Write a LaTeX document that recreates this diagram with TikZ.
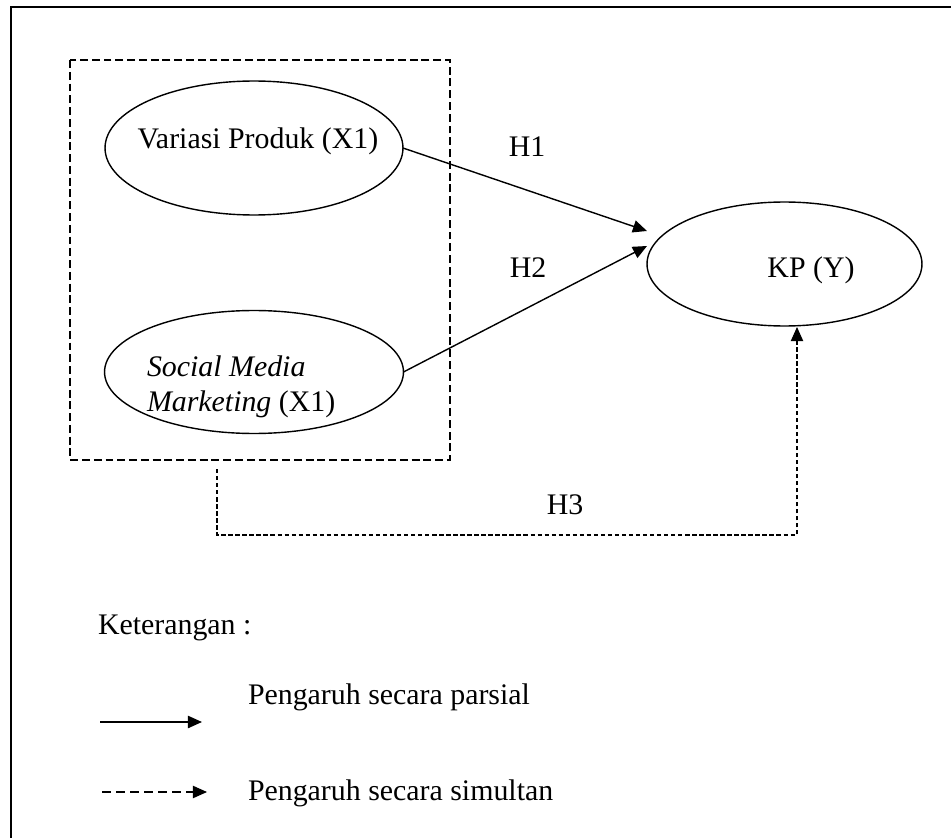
\documentclass[tikz,border=0pt]{standalone}
\usepackage{fontspec}
\setmainfont{Liberation Serif}
\usetikzlibrary{shapes.geometric,arrows.meta}

\begin{document}
\begin{tikzpicture}[x=0.02cm, y=-0.02cm,
  every node/.style={font=\fontsize{17}{20}\selectfont, inner sep=0pt, outer sep=0pt},
  oval/.style={ellipse, draw, line width=0.8pt},
  tip/.style={-{Triangle[length=8pt,width=7pt]}},
  partial/.style={tip, line width=0.8pt},
  simul/.style={tip, line width=0.6pt, dash pattern=on 2.5pt off 1.5pt}]
\useasboundingbox (0,0) rectangle (951,838);
\draw[line width=1.7pt] (11,838) -- (11,7) -- (951,7);

\draw[line width=1.6pt, dash pattern=on 4.5pt off 2.2pt] (70,60) rectangle (450,460);

\node[oval, minimum width=5.96cm, minimum height=2.68cm] (vp) at (254,148) {};
\node (vptext) at (258,141) {Variasi Produk (X1)};
\node[oval, minimum width=5.98cm, minimum height=2.46cm] (smm) at (254,372) {};
\node[anchor=west, align=left] (smmtext) at (147,387) {\textit{Social Media}\\\textit{Marketing} (X1)};
\node[oval, minimum width=5.5cm, minimum height=2.48cm] (kp) at (784.5,264) {};
\node (kptext) at (811,270) {KP (Y)};

\coordinate (tipa) at (647,231);
\coordinate (tipb) at (647,246);
\coordinate (start) at (217,469);
\coordinate (turna) at (217,535);
\coordinate (turnb) at (797,535);
\coordinate (tipc) at (797,327);

\draw[partial] (vp.east) -- (tipa);
\draw[partial] (smm.east) -- (tipb);
\draw[simul] (start) -- (turna) -- (turnb) -- (tipc);

\node (h1) at (527,147) {H1};
\node (h2) at (528,268) {H2};
\node (h3) at (565,505) {H3};

\node[anchor=west] (ket) at (98,628) {Keterangan :};
\node[anchor=west] (parsial) at (248,697) {Pengaruh secara parsial};
\node[anchor=west] (simultan) at (248,793) {Pengaruh secara simultan};
\coordinate (la) at (100,722);
\coordinate (lb) at (202,722);
\coordinate (lc) at (102,792);
\coordinate (ld) at (207,792);
\draw[partial] (la) -- (lb);
\draw[simul, dash pattern=on 5pt off 3pt] (lc) -- (ld);
\end{tikzpicture}
\end{document}
